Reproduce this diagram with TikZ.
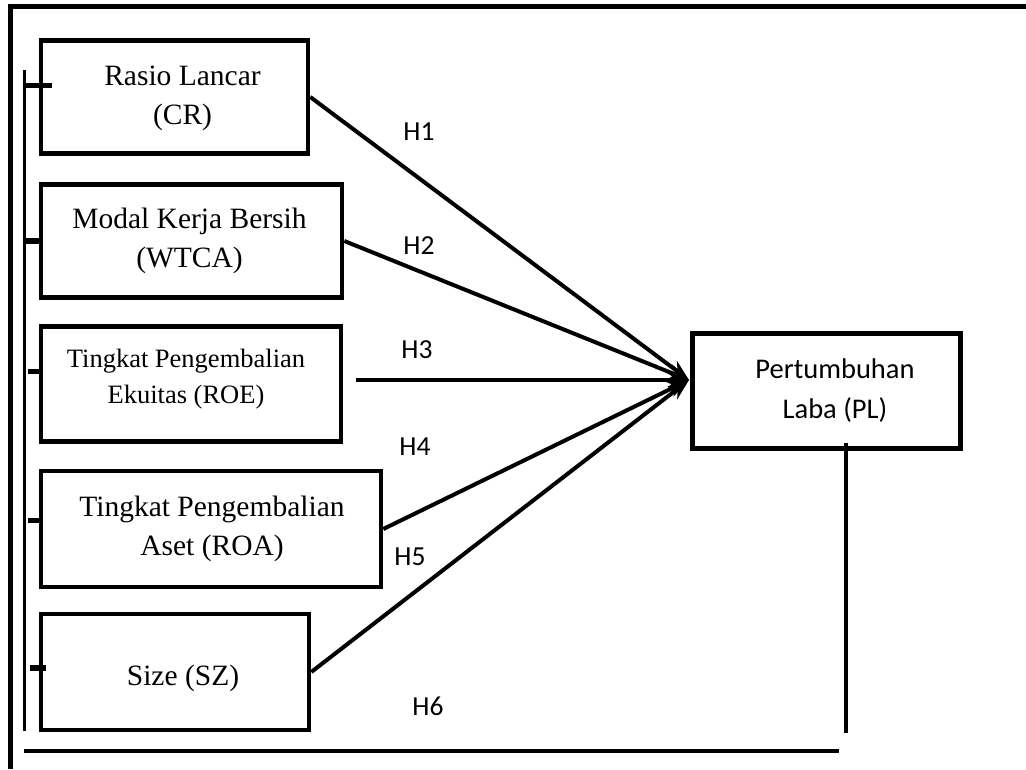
\documentclass[tikz,border=0pt]{standalone}
\usepackage{fontspec}
\setmainfont{Liberation Serif}
\newfontfamily\calib{Carlito}
\usetikzlibrary{arrows.meta}
\begin{document}
\begin{tikzpicture}[x=1pt,y=-1pt,
  box/.style={draw, line width=4.6pt, rectangle, inner sep=0pt},
  txt/.style={align=center, inner sep=0pt, font=\fontsize{29.5}{39}\selectfont},
  conn/.style={line width=4pt},
  arr/.style={conn, -{Stealth[length=21pt,width=16pt]}},
  hlab/.style={font=\calib\fontsize{27.5}{32}\selectfont, inner sep=0pt},
  tickmark/.style={line width=5.5pt},
  framel/.style={line width=5pt}]
\useasboundingbox (0,0) rectangle (1026,769);
% outer frame (top and left)
\draw[framel] (10.3,769) -- (10.3,6.5) -- (1026,6.5);
% boxes
\node[box, minimum width=267pt, minimum height=113.5pt] (cr) at (174.5,97) {};
\node[box, minimum width=301pt, minimum height=113.5pt] (wtca) at (191.5,241) {};
\node[box, minimum width=300pt, minimum height=115.5pt] (roe) at (191,384) {};
\node[box, minimum width=340pt, minimum height=116pt] (roa) at (211,529) {};
\node[box, minimum width=268pt, minimum height=116pt] (sz) at (175,672) {};
\node[box, minimum width=268pt, minimum height=115.5pt] (pl) at (826.5,391) {};
% texts
\node[txt] (crt) at ([shift={(8,1)}]cr.center) {Rasio Lancar\\(CR)};
\node[txt] (wtcat) at ([shift={(-2,0)}]wtca.center) {Modal Kerja Bersih\\(WTCA)};
\node[txt, font=\fontsize{26.5}{36}\selectfont] (roet) at ([shift={(-5,-5)}]roe.center) {Tingkat Pengembalian\\Ekuitas (ROE)};
\node[txt] (roat) at ([shift={(1,0)}]roa.center) {Tingkat Pengembalian\\Aset (ROA)};
\node[txt] (szt) at ([shift={(8,6)}]sz.center) {Size (SZ)};
\node[txt, font=\calib\fontsize{28.5}{40}\selectfont] (plt) at ([shift={(8.5,0)}]pl.center) {Pertumbuhan\\Laba (PL)};
% inner bar and ticks
\coordinate (bartop) at (24.5,70);
\coordinate (barbot) at (24.5,731);
\draw[line width=3.8pt] (bartop) -- (barbot);
\draw[tickmark] (24,85.5) -- (52,85.5);
\draw[tickmark] (24,241) -- (41,241);
\draw[tickmark] (28,371.5) -- (42,371.5);
\draw[tickmark] (28,520.5) -- (42,520.5);
\draw[tickmark] (30,668) -- (46,668);
% H6 path
\coordinate (plv) at (846,443);
\coordinate (plb) at (846,733);
\coordinate (bl) at (24,751);
\coordinate (br) at (839,751);
\draw[conn] (plv) -- (plb);
\draw[conn] (bl) -- (br);
% arrows
\coordinate (tip) at (689,380);
\coordinate (h3s) at (356,380);
\draw[arr] (cr.east) -- (tip);
\draw[arr] (wtca.east) -- (tip);
\draw[arr] (h3s) -- (tip);
\draw[arr] (roa.east) -- (tip);
\draw[arr] (sz.east) -- (tip);
% labels
\node[hlab] (h1) at (419,132) {H1};
\node[hlab] (h2) at (419,246) {H2};
\node[hlab] (h3) at (417,350) {H3};
\node[hlab] (h4) at (415,447) {H4};
\node[hlab] (h5) at (410,557) {H5};
\node[hlab] (h6) at (428,706) {H6};
\end{tikzpicture}
\end{document}
